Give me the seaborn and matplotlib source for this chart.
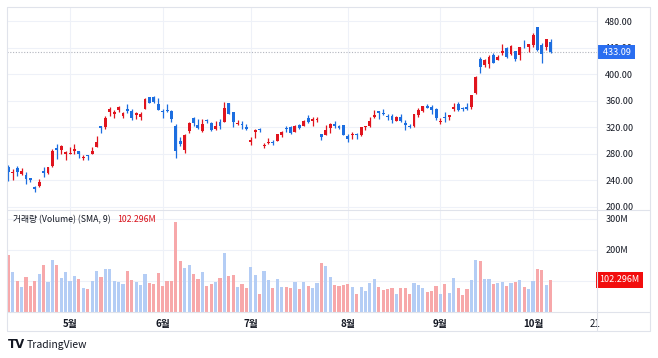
import numpy as np
import pandas as pd
import matplotlib
matplotlib.use("Agg")
import matplotlib.pyplot as plt
import matplotlib.transforms as mtransforms
from matplotlib.lines import Line2D
import seaborn as sns

# --- daily candles (TSLA, Apr 10 - Oct 7) ---
dates = [
    "04-10", "04-11", "04-14", "04-15", "04-16", "04-17", "04-21", "04-22", "04-23", "04-24",
    "04-25", "04-28", "04-29", "04-30", "05-01", "05-02", "05-05", "05-06", "05-07", "05-08",
    "05-09", "05-12", "05-13", "05-14", "05-15", "05-16", "05-19", "05-20", "05-21", "05-22",
    "05-23", "05-27", "05-28", "05-29", "05-30", "06-02", "06-03", "06-04", "06-05", "06-06",
    "06-09", "06-10", "06-11", "06-12", "06-13", "06-16", "06-17", "06-18", "06-20", "06-23",
    "06-24", "06-25", "06-26", "06-27", "06-30", "07-01", "07-02", "07-03", "07-07", "07-08",
    "07-09", "07-10", "07-11", "07-14", "07-15", "07-16", "07-17", "07-18", "07-21", "07-22",
    "07-23", "07-24", "07-25", "07-28", "07-29", "07-30", "07-31", "08-01", "08-04", "08-05",
    "08-06", "08-07", "08-08", "08-11", "08-12", "08-13", "08-14", "08-15", "08-18", "08-19",
    "08-20", "08-21", "08-22", "08-25", "08-26", "08-27", "08-28", "08-29", "09-02", "09-03",
    "09-04", "09-05", "09-08", "09-09", "09-10", "09-11", "09-12", "09-15", "09-16", "09-17",
    "09-18", "09-19", "09-22", "09-23", "09-24", "09-25", "09-26", "09-29", "09-30", "10-01",
    "10-02", "10-03", "10-06", "10-07",
]
opens = [
    260.00, 251.84, 258.36, 249.91, 247.61, 243.47, 230.26, 230.96, 254.86, 250.50,
    261.69, 288.98, 285.50, 279.90, 280.01, 284.90, 284.57, 273.11, 276.88, 279.63,
    290.21, 321.99, 320.00, 342.50, 340.34, 346.24, 336.30, 347.87, 344.43, 337.92,
    335.00, 347.35, 364.84, 365.29, 355.52, 343.50, 346.60, 345.10, 322.49, 298.83,
    285.96, 314.94, 334.40, 323.08, 313.97, 331.29, 326.09, 317.31, 327.95, 327.54,
    356.17, 342.70, 324.61, 324.51, 319.90, 298.46, 312.63, 317.99, 291.37, 297.00,
    297.55, 300.05, 307.89, 317.73, 319.68, 312.80, 323.15, 321.66, 334.40, 329.74,
    330.90, 310.00, 308.74, 318.45, 325.55, 322.00, 324.00, 306.21, 308.95, 310.00,
    307.89, 319.79, 321.43, 335.00, 345.00, 341.50, 335.76, 337.66, 329.62, 335.79,
    327.00, 322.08, 321.66, 338.90, 344.93, 351.94, 350.91, 347.23, 328.23, 335.20,
    336.15, 348.00, 354.64, 348.44, 350.55, 350.17, 370.94, 423.13, 414.50, 415.75,
    428.87, 421.82, 431.11, 439.88, 429.83, 435.24, 428.30, 444.35, 441.52, 443.80,
    470.54, 443.29, 440.75, 447.82,
]
highs = [
    262.49, 257.74, 261.80, 258.75, 251.97, 244.34, 232.21, 242.79, 259.45, 259.54,
    286.85, 294.86, 293.32, 284.45, 290.87, 294.78, 284.85, 277.73, 277.92, 289.80,
    307.04, 322.21, 337.59, 350.00, 346.14, 351.62, 343.00, 354.99, 347.35, 343.18,
    343.00, 363.79, 365.00, 367.71, 363.68, 348.02, 355.40, 345.60, 324.55, 305.50,
    309.83, 327.83, 335.50, 332.56, 332.99, 332.05, 327.26, 329.32, 332.36, 357.54,
    356.26, 343.00, 331.05, 329.34, 325.58, 305.89, 316.83, 318.45, 296.15, 304.05,
    300.15, 310.48, 314.09, 322.60, 321.20, 323.50, 324.34, 330.90, 338.00, 335.41,
    336.20, 310.15, 323.63, 327.12, 328.85, 324.00, 324.00, 309.31, 312.45, 312.12,
    320.47, 322.40, 335.15, 346.64, 345.26, 346.93, 340.47, 339.30, 336.27, 340.55,
    331.37, 324.90, 340.25, 349.53, 351.90, 355.39, 353.55, 348.75, 333.33, 343.33,
    338.89, 355.87, 358.44, 350.77, 356.33, 368.99, 396.69, 425.70, 423.25, 428.31,
    432.22, 429.47, 444.98, 440.97, 444.21, 435.35, 440.47, 450.98, 445.00, 462.29,
    470.75, 446.77, 453.55, 452.68,
]
lows = [
    239.33, 241.36, 245.93, 247.54, 233.89, 237.68, 222.79, 229.85, 244.43, 249.20,
    259.63, 272.42, 279.47, 270.78, 279.81, 279.81, 274.40, 271.35, 271.00, 279.41,
    290.00, 311.50, 316.80, 337.00, 334.72, 342.33, 333.37, 341.63, 331.10, 333.21,
    331.50, 347.32, 355.91, 356.00, 345.29, 333.33, 343.04, 327.33, 273.21, 291.14,
    281.85, 310.67, 322.50, 316.86, 313.30, 326.41, 314.74, 315.45, 317.78, 327.48,
    340.44, 320.40, 323.61, 317.50, 316.60, 293.21, 303.82, 312.76, 288.77, 294.35,
    293.55, 300.00, 305.65, 312.67, 310.50, 312.62, 317.06, 321.42, 326.88, 321.55,
    328.67, 300.41, 308.01, 311.61, 318.41, 317.00, 308.00, 297.82, 303.00, 303.00,
    306.93, 316.16, 320.98, 334.00, 332.94, 338.00, 330.40, 327.02, 329.59, 327.85,
    315.60, 318.68, 319.69, 335.03, 343.72, 349.16, 340.26, 331.70, 325.60, 328.51,
    331.48, 344.68, 344.84, 343.82, 346.07, 347.60, 370.24, 402.43, 411.43, 409.67,
    416.56, 421.72, 429.13, 423.72, 429.03, 419.08, 421.02, 439.50, 433.12, 440.75,
    435.57, 416.58, 436.69, 432.45,
]
closes = [
    252.40, 252.31, 252.35, 254.11, 241.55, 241.37, 227.50, 237.97, 250.74, 259.51,
    284.95, 285.88, 292.03, 282.16, 280.52, 287.21, 280.26, 275.35, 276.22, 284.82,
    298.26, 318.38, 334.07, 347.68, 342.82, 349.98, 342.09, 343.82, 334.62, 341.04,
    339.34, 362.89, 356.90, 358.43, 346.46, 342.69, 344.27, 332.05, 284.70, 295.14,
    308.58, 326.09, 326.43, 319.11, 325.31, 329.13, 316.35, 322.05, 322.16, 348.68,
    340.47, 327.55, 325.78, 323.63, 317.66, 300.71, 315.65, 315.35, 293.94, 297.81,
    295.88, 309.87, 313.51, 316.90, 310.78, 321.67, 319.41, 329.65, 328.49, 332.11,
    332.56, 305.30, 316.06, 325.59, 321.20, 319.04, 308.27, 302.63, 309.26, 308.72,
    319.91, 322.27, 329.65, 339.03, 340.84, 339.38, 335.58, 330.56, 335.16, 329.31,
    323.90, 320.11, 340.01, 346.60, 351.67, 349.60, 345.98, 333.87, 329.36, 334.09,
    338.53, 350.84, 346.40, 346.97, 347.79, 368.81, 395.94, 410.04, 421.62, 425.86,
    416.85, 426.07, 434.21, 425.85, 442.79, 423.39, 440.40, 443.21, 444.72, 459.46,
    436.00, 429.83, 453.25, 433.09,
]
volumes = [  # millions
    181.7, 128.9, 100.4, 79.6, 112.4, 83.4, 97.8, 120.9, 150.4, 94.5,
    167.6, 151.7, 108.9, 128.9, 99.7, 114.5, 104.3, 76.7, 71.9, 97.5,
    132.4, 112.8, 137.0, 136.9, 97.9, 95.9, 88.9, 131.7, 102.4, 97.0,
    84.7, 120.1, 91.4, 88.5, 123.5, 81.9, 99.3, 98.9, 290.0, 164.7,
    140.9, 151.3, 122.3, 105.1, 129.0, 83.9, 88.3, 95.1, 108.7, 190.7,
    114.7, 119.8, 80.4, 89.1, 76.7, 145.1, 119.5, 58.0, 131.2, 103.2,
    75.6, 104.4, 79.2, 78.9, 77.6, 97.3, 73.9, 94.3, 84.0, 77.4,
    92.6, 157.0, 148.2, 112.7, 87.2, 81.6, 86.9, 89.4, 78.5, 58.0,
    78.2, 66.7, 91.2, 105.3, 80.5, 69.7, 74.3, 75.0, 57.0, 75.9,
    77.5, 55.7, 94.0, 86.7, 76.7, 65.0, 67.9, 81.3, 58.4, 88.7,
    60.7, 109.0, 75.2, 53.8, 72.1, 103.7, 168.2, 163.8, 104.3, 105.0,
    90.5, 93.1, 97.1, 83.4, 93.1, 96.9, 101.6, 79.5, 74.4, 98.1,
    137.0, 133.8, 85.0, 102.296,
]

month_dates = ["05-01", "06-02", "07-01", "08-01", "09-02", "10-01"]
month_labels = ["5월", "6월", "7월", "8월", "9월", "10월"]
future_pos = len(dates) + 9      # Oct 21 on the future time scale
future_label = "21"
price_ticks = [200, 240, 280, 320, 360, 400, 440, 480]
vol_ticks = [100, 200, 300]
last_price = closes[-1]
last_vol = volumes[-1]

# --- colours ---
UP, DOWN = "#e0141e", "#1c6ee0"
VOL_UP, VOL_DOWN = "#b4cdf5", "#f7a8aa"
GRID = "#eef1f8"
BORDER = "#e0e3eb"
TXT = "#131722"

sns.set_theme(style="white")
plt.rcParams["font.family"] = ["Noto Sans CJK KR", "DejaVu Sans"]

df = pd.DataFrame({"date": dates, "open": opens, "high": highs, "low": lows,
                   "close": closes, "vol": volumes})
df["i"] = np.arange(len(df))
df["dir"] = np.where(df["close"] >= df["open"], "up", "down")

W, H = 658, 358
fig = plt.figure(figsize=(W / 100, H / 100), dpi=100)
fig.patch.set_facecolor("white")


def fx(px):
    return px / W


def fy(py):
    return 1 - py / H


ax = fig.add_axes([fx(7), fy(209.5), fx(597) - fx(7), fy(7) - fy(209.5)])
axv = fig.add_axes([fx(7), fy(311.7), fx(597) - fx(7), fy(209.5) - fy(311.7)])

xmin, xmax = -0.3, 133.5

# candles
for _, r in df.iterrows():
    c = UP if r["dir"] == "up" else DOWN
    ax.vlines(r["i"], r["low"], r["high"], color=c, lw=0.9, zorder=3)
    lo = min(r["open"], r["close"])
    h = max(abs(r["close"] - r["open"]), 1.3)
    ax.bar(r["i"], h, bottom=lo, width=0.66, color=c, lw=0, zorder=4)

ax.axhline(last_price, color="#b2b5be", lw=0.8, ls=(0, (1, 1.5)), zorder=2)

# volume
sns.barplot(data=df, x="i", y="vol", hue="dir", palette={"up": VOL_UP, "down": VOL_DOWN},
            native_scale=True, width=0.72, dodge=False, saturation=1, errorbar=None,
            legend=False, linewidth=0, ax=axv, zorder=3)

month_pos = [dates.index(d) for d in month_dates]

for a in (ax, axv):
    a.set_xlim(xmin, xmax)
    for s in a.spines.values():
        s.set_visible(False)
    a.set_xlabel("")
    a.set_ylabel("")
    a.set_facecolor("white")
    for p in month_pos:
        a.axvline(p, color=GRID, lw=0.8, zorder=0)

ax.set_ylim(196.2, 501.1)
ax.set_yticks(price_ticks)
ax.set_yticklabels([f"{v:.2f}" for v in price_ticks])
for v in price_ticks:
    ax.axhline(v, color=GRID, lw=0.8, zorder=0)
ax.set_xticks([])
ax.yaxis.tick_right()
ax.tick_params(axis="y", length=0, pad=6, labelsize=6.5, labelcolor=TXT)
# price scale labels are cut at the pane border
clip = mtransforms.TransformedBbox(
    mtransforms.Bbox.from_extents(0, fy(209.5), 1, 1), fig.transFigure)
for t in ax.yaxis.get_major_ticks():
    t.label2.set_clip_on(True)
    t.label2.set_clip_box(clip)

axv.set_ylim(0, 329.7)
axv.set_yticks(vol_ticks)
axv.set_yticklabels([f"{v}M" for v in vol_ticks])
for v in vol_ticks:
    axv.axhline(v, color=GRID, lw=0.8, zorder=0)
axv.yaxis.tick_right()
axv.tick_params(axis="y", length=0, pad=6, labelsize=6.5, labelcolor=TXT)
axv.set_xticks(month_pos + [future_pos])
axv.set_xticklabels(month_labels + [future_label])
axv.tick_params(axis="x", length=0, pad=5, labelsize=7, labelcolor=TXT)
for lab in axv.get_xticklabels()[:-1]:
    lab.set_fontweight("bold")

# last value labels on the scale
tr = mtransforms.blended_transform_factory(ax.transAxes, ax.transData)
ax.text(1.006, last_price, f" {last_price:.2f} ", transform=tr, ha="left", va="center",
        fontsize=6.5, color="white", zorder=10, clip_on=False,
        bbox=dict(boxstyle="square,pad=0.3", fc="#2a6ef0", ec="none"))
trv = mtransforms.blended_transform_factory(axv.transAxes, axv.transData)
axv.text(1.004, last_vol, f"{last_vol:.3f}M", transform=trv, ha="left", va="center",
         fontsize=6.5, color="white", zorder=10, clip_on=False,
         bbox=dict(boxstyle="square,pad=0.35", fc="#f20d0d", ec="none"))

# legend of the volume pane
fig.text(fx(13), fy(220), "거래량 (Volume) (SMA, 9)", fontsize=6.3, color=TXT, va="center")
fig.text(fx(117), fy(220), f"{last_vol:.3f}M", fontsize=6.3, color="#d8101a", va="center")

# frame and pane separators
for (x0, y0, x1, y1) in [(7, 7, 650, 7), (7, 331, 650, 331), (7, 7, 7, 331), (650, 7, 650, 331),
                         (7, 209.5, 650, 209.5), (7, 311.7, 650, 311.7), (597, 7, 597, 331)]:
    fig.add_artist(Line2D([fx(x0), fx(x1)], [fy(y0), fy(y1)], color=BORDER, lw=0.8))

# TradingView logo
fig.text(fx(8), fy(345), "TV", fontsize=8.5, fontweight="heavy", color=TXT, va="center",
         family="DejaVu Sans")
fig.text(fx(27), fy(345), "TradingView", fontsize=7.5, color=TXT, va="center")

fig.savefig("out.png", dpi=100)
